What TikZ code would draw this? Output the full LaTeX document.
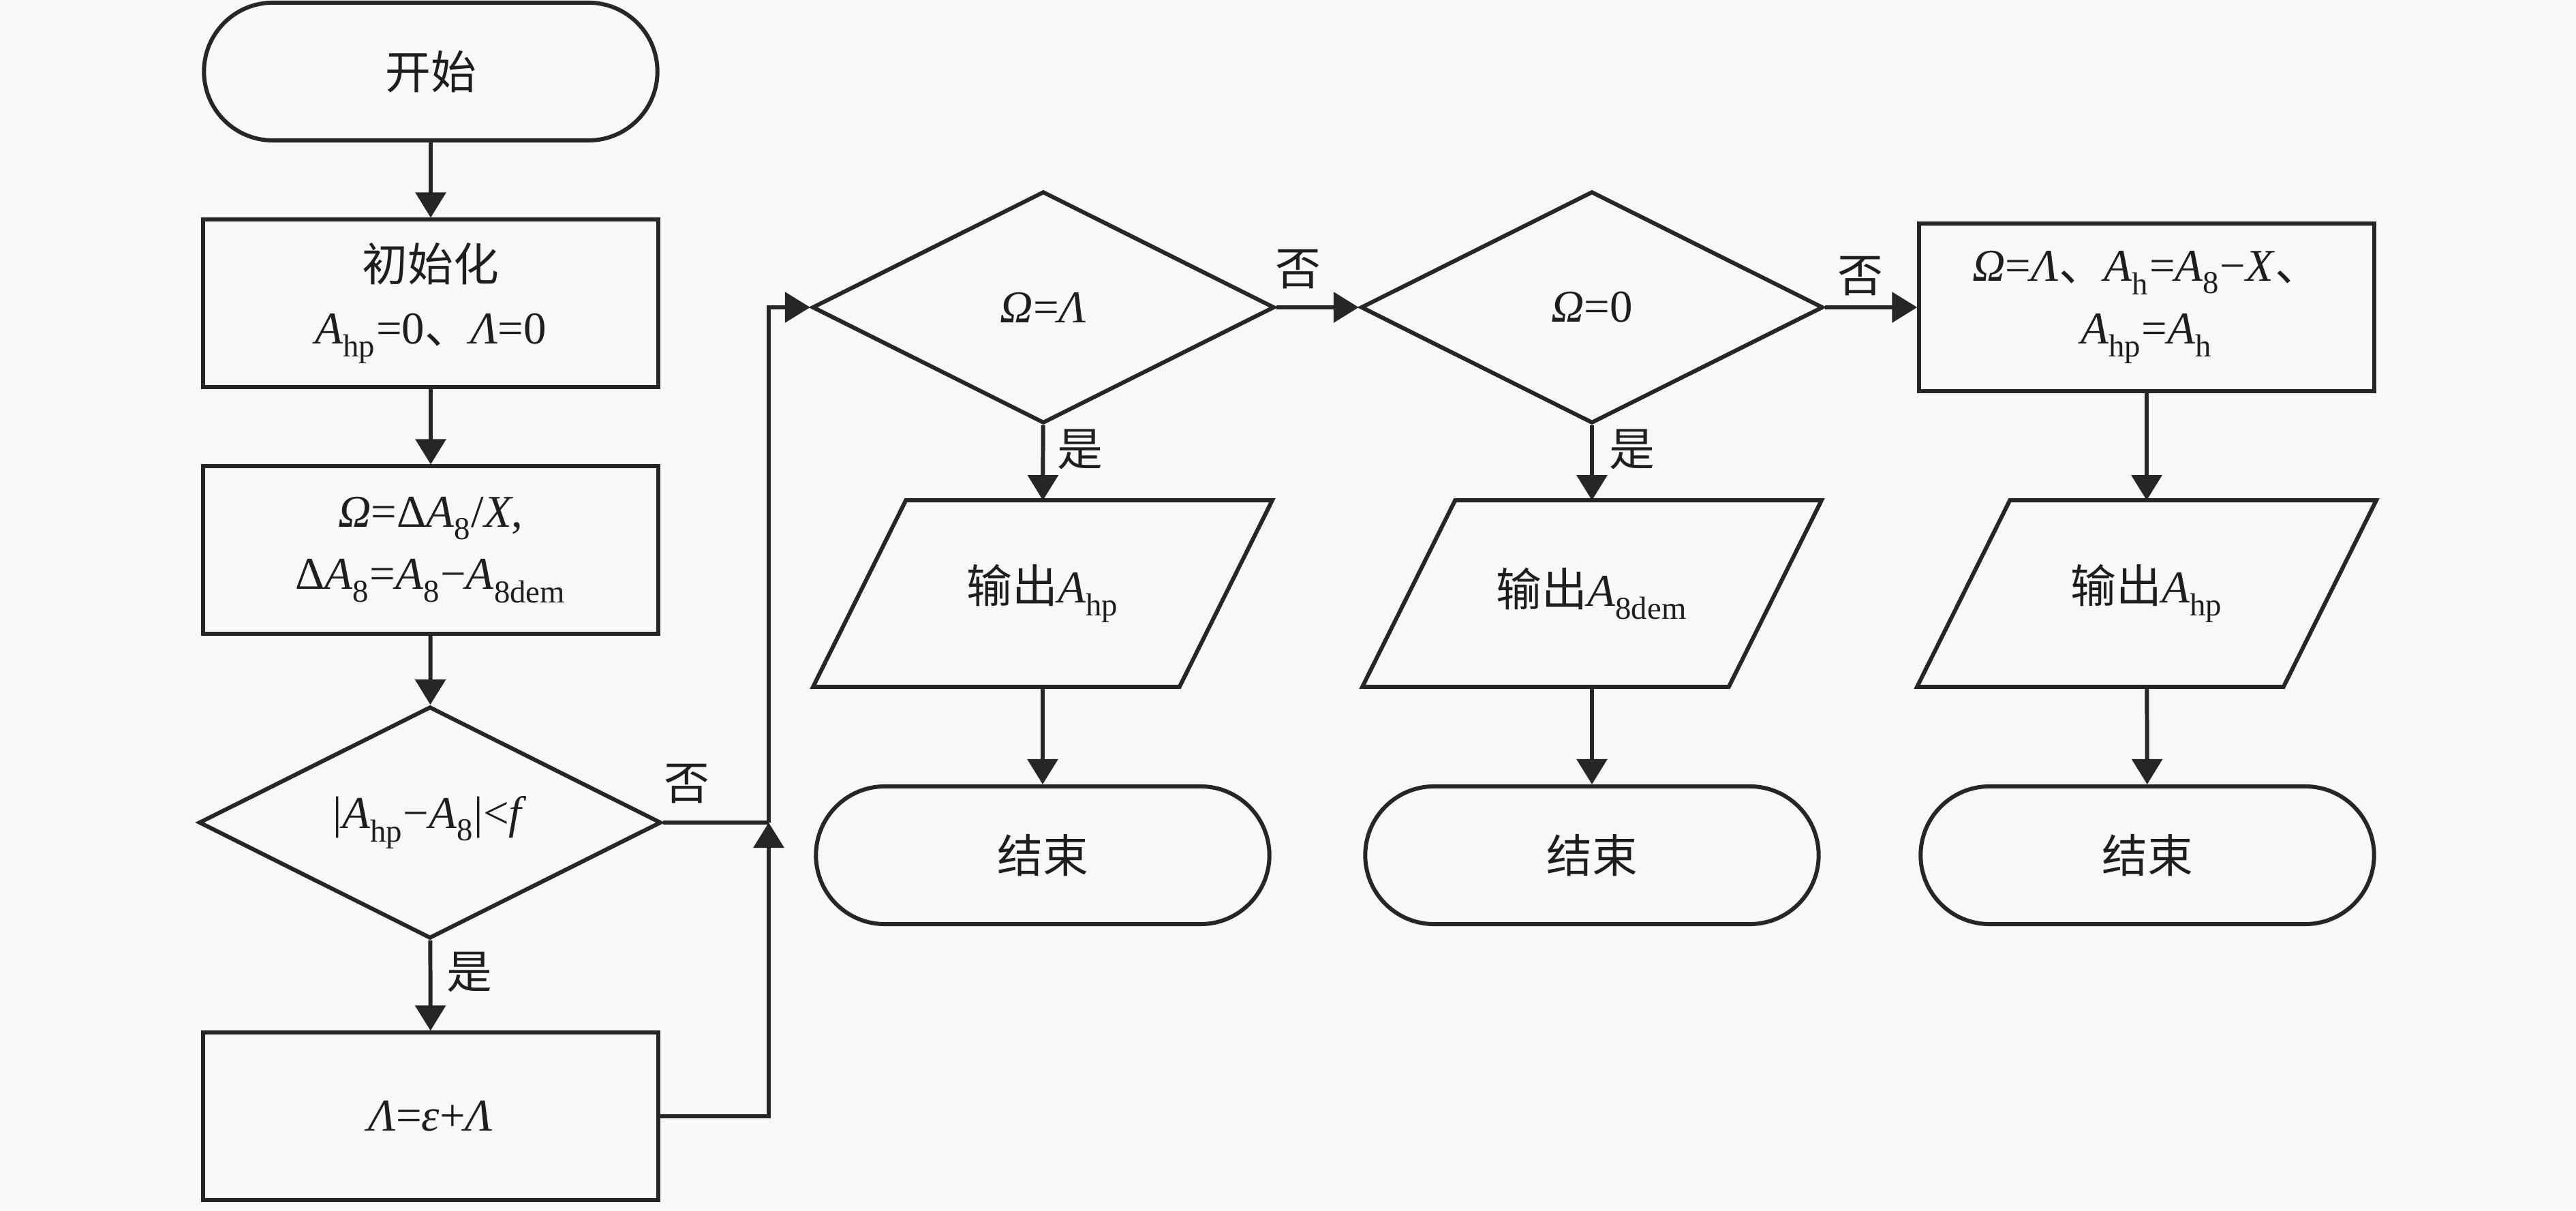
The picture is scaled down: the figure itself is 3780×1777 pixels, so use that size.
\documentclass[tikz,border=0pt]{standalone}
\usepackage{fontspec}
\setmainfont{Liberation Serif}
\newfontfamily\cjk{Noto Sans CJK SC}
\usetikzlibrary{arrows.meta,shapes.geometric,calc}
\definecolor{ln}{HTML}{262626}
\definecolor{bg}{HTML}{F8F8F8}
\definecolor{tx}{HTML}{1E1E1E}
\newcommand\vA[1]{\textit{A}\raisebox{-0.12em}{\textsubscript{#1}}}
\newcommand\cdun{{\cjk 、}}
\begin{document}
\begin{tikzpicture}[x=0.01cm,y=-0.01cm,
  every node/.style={font=\fontsize{19}{27}\selectfont, text=tx, align=center},
  line/.style={draw=ln, line width=1.7pt},
  arr/.style={line, -{Triangle[length=0.37cm,width=0.44cm]}},
  term/.style={line, rectangle, rounded corners=1.01cm, minimum width=6.65cm, minimum height=2.02cm, inner sep=0pt},
  proc/.style={line, rectangle, minimum width=6.67cm, minimum height=2.45cm, inner sep=0pt},
  dec/.style={line, diamond, shape aspect=2, minimum width=6.78cm, minimum height=3.4cm, inner sep=0pt},
  iobox/.style={rectangle, minimum width=5.36cm, minimum height=2.72cm, inner sep=0pt},
  lab/.style={inner sep=0pt}]
\fill[bg] (0,0) rectangle (3780,1777);
\useasboundingbox (0,0) rectangle (3780,1777);

% left column
\node[term] (start) at (632,105) {\cjk 开始};
\node[proc] (init) at (632,445) {{\cjk 初始化}\\[-1pt]\vA{hp}=0\cdun\textit{Λ}=0};
\node[proc] (omg) at (632,807) {\textit{Ω}=Δ\vA{8}/\textit{X},\\[-1pt]Δ\vA{8}=\vA{8}−\vA{8dem}};
\node[dec] (d1) at (631,1207) {|\vA{hp}−\vA{8}|<\textit{f}};
\node[proc] (lam) at (632,1638) {\textit{Λ}=\textit{ε}+\textit{Λ}};
\coordinate (j) at (1128,1207);

% decisions
\node[dec] (d2) at (1531,451) {\textit{Ω}=\textit{Λ}};
\node[dec] (d3) at (2336,451) {\textit{Ω}=0};
\node[proc] (b3) at (3150,451) {\textit{Ω}=\textit{Λ}\cdun\vA{h}=\vA{8}−\textit{X}\cdun\\[-1pt]\vA{hp}=\vA{h}};

% outputs
\node[iobox] (p1) at (1530,871) {{\cjk 输出}\vA{hp}};
\node[iobox] (p2) at (2336,871) {{\cjk 输出}\vA{8dem}};
\node[iobox] (p3) at (3150,871) {{\cjk 输出}\vA{hp}};
\foreach \p in {p1,p2,p3}{
  \draw[line] ([xshift=0.68cm]\p.north west) -- ([xshift=0.68cm]\p.north east)
    -- ([xshift=-0.68cm]\p.south east) -- ([xshift=-0.68cm]\p.south west) -- cycle;
}

% ends
\node[term] (e1) at (1530,1255) {\cjk 结束};
\node[term] (e2) at (2336,1255) {\cjk 结束};
\node[term] (e3) at (3151,1255) {\cjk 结束};

% connectors
\draw[arr] (start) -- (init);
\draw[arr] (init) -- (omg);
\draw[arr] (omg) -- (d1);
\draw[arr] (d1) -- (lam);
\draw[line] (d1.east) -- (j);
\draw[arr] (lam.east) -| (j);
\draw[arr] (j) |- (d2.west);
\draw[arr] (d2) -- (p1);
\draw[arr] (p1) -- (e1);
\draw[arr] (d2.east) -- (d3.west);
\draw[arr] (d3) -- (p2);
\draw[arr] (p2) -- (e2);
\draw[arr] (d3.east) -- (b3.west);
\draw[arr] (b3) -- (p3);
\draw[arr] (p3) -- (e3);

% labels
\node[lab] (l1) at (1008,1150) {\cjk 否};
\node[lab] (l2) at (689,1427) {\cjk 是};
\node[lab] (l3) at (1905,395) {\cjk 否};
\node[lab] (l4) at (1585,660) {\cjk 是};
\node[lab] (l5) at (2730,405) {\cjk 否};
\node[lab] (l6) at (2395,660) {\cjk 是};
\end{tikzpicture}
\end{document}
